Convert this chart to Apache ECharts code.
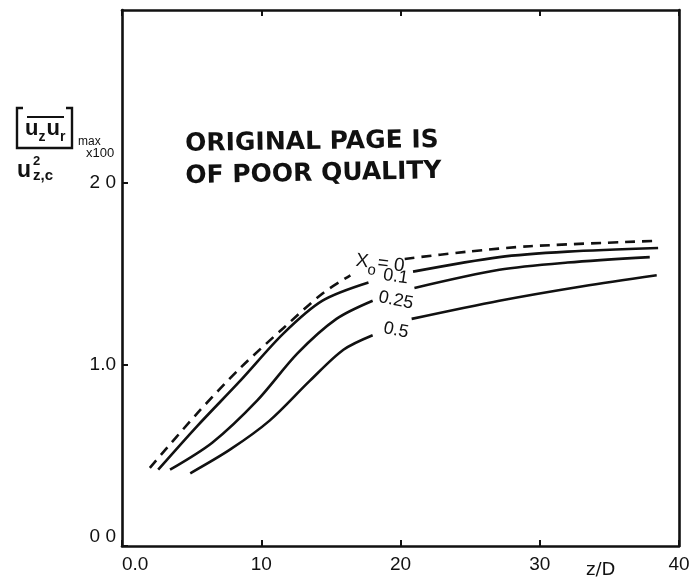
<!DOCTYPE html>
<html>
<head>
<meta charset="utf-8">
<script src="https://cdn.jsdelivr.net/npm/echarts@6/dist/echarts.min.js"></script>
<style>
  html, body { margin: 0; padding: 0; background: #fff; }
  #chart { width: 698px; height: 580px; }
</style>
</head>
<body>
<div id="chart"></div>
<script>
// Axial distance z/D and normalised peak shear stress for each virtual-origin offset x0.
// A '-' entry breaks the line where the curve label sits.
const curveX0_0 = [[2.0,0.43],[5.4,0.73],[8.5,0.98],[11.6,1.20],[14.4,1.39],[16.4,1.49],['-','-'],[20.3,1.58],[24.8,1.62],[29.3,1.65],[38.5,1.68]];
const curveX0_01 = [[2.6,0.42],[5.4,0.66],[8.5,0.91],[11.6,1.17],[14.4,1.35],[17.7,1.45],['-','-'],[20.9,1.51],[27.1,1.59],[32.0,1.62],[38.5,1.64]];
const curveX0_025 = [[3.45,0.42],[6.5,0.57],[9.7,0.80],[12.6,1.06],[15.4,1.25],[18.0,1.35],['-','-'],[21.0,1.42],[27.1,1.52],[32.0,1.56],[37.9,1.59]];
const curveX0_05 = [[4.9,0.40],[7.75,0.53],[10.6,0.69],[13.5,0.91],[15.9,1.08],[18.0,1.16],['-','-'],[20.8,1.25],[27.1,1.35],[33.1,1.43],[38.4,1.49]];

const xTickLabels = {0: '0.0', 10: '10', 20: '20', 30: '30', 40: '40'};
const yTickLabels = {0: '0 0', 1: '1.0', 2: '2 0'};

const FONT = '"Liberation Sans", Arial, sans-serif';
const STAMP_FONT = '"DejaVu Sans", sans-serif';
const INK = '#111';

const chart = echarts.init(document.getElementById('chart'));

function curve(data, dashed) {
  return {
    type: 'line',
    data: data,
    xAxisIndex: 0,
    yAxisIndex: 0,
    showSymbol: false,
    symbol: 'none',
    smooth: 0.3,
    connectNulls: false,
    lineStyle: dashed ? { color: INK, width: 2.6, type: [10, 7] } : { color: INK, width: 2.6 },
    animation: false,
    silent: true
  };
}

const frameLine = { show: true, onZero: false, lineStyle: { color: INK, width: 2.6 } };
const innerTick = { show: true, inside: true, length: 6, lineStyle: { color: INK, width: 2 } };

chart.setOption({
  backgroundColor: '#fff',
  animation: false,
  grid: { left: 122, right: 19, top: 10, bottom: 34, containLabel: false },
  xAxis: [
    {
      type: 'value', min: 0, max: 40, interval: 10, position: 'bottom',
      axisLine: frameLine, axisTick: innerTick,
      splitLine: { show: false },
      axisLabel: {
        color: INK, fontFamily: FONT, fontSize: 19, margin: 9,
        alignMinLabel: 'left',
        formatter: v => xTickLabels[v] !== undefined ? xTickLabels[v] : ''
      }
    },
    {
      type: 'value', min: 0, max: 40, interval: 10, position: 'top',
      axisLine: frameLine, axisTick: innerTick,
      splitLine: { show: false },
      axisLabel: { show: false }
    }
  ],
  yAxis: [
    {
      type: 'value', min: 0, max: 2.95, interval: 1, position: 'left',
      axisLine: frameLine, axisTick: innerTick,
      splitLine: { show: false },
      axisLabel: {
        color: INK, fontFamily: FONT, fontSize: 19, margin: 6,
        showMaxLabel: false,
        verticalAlignMinLabel: 'bottom',
        formatter: v => yTickLabels[v] !== undefined ? yTickLabels[v] : ''
      }
    },
    {
      type: 'value', min: 0, max: 2.95, interval: 1, position: 'right',
      axisLine: frameLine,
      axisTick: { show: false },
      splitLine: { show: false },
      axisLabel: { show: false }
    }
  ],
  series: [
    curve(curveX0_0, true),
    curve(curveX0_01, false),
    curve(curveX0_025, false),
    curve(curveX0_05, false)
  ],
  graphic: [
    // y-axis quantity: [overline(u_z u_r)]max x100 over u_z,c^2
    { type: 'polyline', shape: { points: [[23,108],[17,108],[17,148],[72,148],[72,108],[66,108]] },
      style: { stroke: INK, lineWidth: 2.4, fill: null } },
    { type: 'line', shape: { x1: 27, y1: 117, x2: 64, y2: 117 }, style: { stroke: INK, lineWidth: 2.2 } },
    { type: 'text', left: 25, top: 118, style: {
        text: '{b|u}{s|z}{b|u}{s|r}',
        rich: {
          b: { fontFamily: FONT, fontSize: 22, fill: INK, fontWeight: 'bold', verticalAlign: 'bottom' },
          s: { fontFamily: FONT, fontSize: 14, fill: INK, fontWeight: 'bold', verticalAlign: 'bottom', padding: [0, 1, -4, 0] }
        }
      } },
    { type: 'text', left: 78, top: 136, style: { text: 'max', fontFamily: FONT, fontSize: 12, fill: INK } },
    { type: 'text', left: 86, top: 147, style: { text: 'x100', fontFamily: FONT, fontSize: 13, fill: INK } },
    { type: 'text', left: 17, top: 159, style: { text: 'u', fontFamily: FONT, fontSize: 23, fontWeight: 'bold', fill: INK } },
    { type: 'text', left: 33, top: 155, style: { text: '2', fontFamily: FONT, fontSize: 13, fontWeight: 'bold', fill: INK } },
    { type: 'text', left: 33, top: 168, style: { text: 'z,c', fontFamily: FONT, fontSize: 15, fontWeight: 'bold', fill: INK } },

    // stamp
    { type: 'text', left: 185, top: 128, rotation: 0.015, style: {
        text: 'ORIGINAL PAGE IS', fontFamily: STAMP_FONT, fontSize: 25, fontWeight: 'bold', fill: INK } },
    { type: 'text', left: 185, top: 159, rotation: 0.02, style: {
        text: 'OF POOR QUALITY', fontFamily: STAMP_FONT, fontSize: 25, fontWeight: 'bold', fill: INK } },

    // curve labels
    { type: 'text', left: 354, top: 251, rotation: -0.12, style: {
        text: '{b|X}{s|o}{b|= 0}',
        rich: {
          b: { fontFamily: FONT, fontSize: 19, fill: INK, verticalAlign: 'bottom' },
          s: { fontFamily: FONT, fontSize: 15, fill: INK, verticalAlign: 'bottom', padding: [0, 1, -6, 0] }
        }
      } },
    { type: 'text', left: 382, top: 266, rotation: -0.15, style: { text: '0.1', fontFamily: FONT, fontSize: 18, fill: INK } },
    { type: 'text', left: 377, top: 288, rotation: -0.2, style: { text: '0.25', fontFamily: FONT, fontSize: 18, fill: INK } },
    { type: 'text', left: 382, top: 319, rotation: -0.2, style: { text: '0.5', fontFamily: FONT, fontSize: 18, fill: INK } },

    // x-axis quantity
    { type: 'text', left: 586, top: 561, style: { text: 'z/D', fontFamily: STAMP_FONT, fontSize: 18, fill: INK } }
  ]
});
</script>
</body>
</html>
